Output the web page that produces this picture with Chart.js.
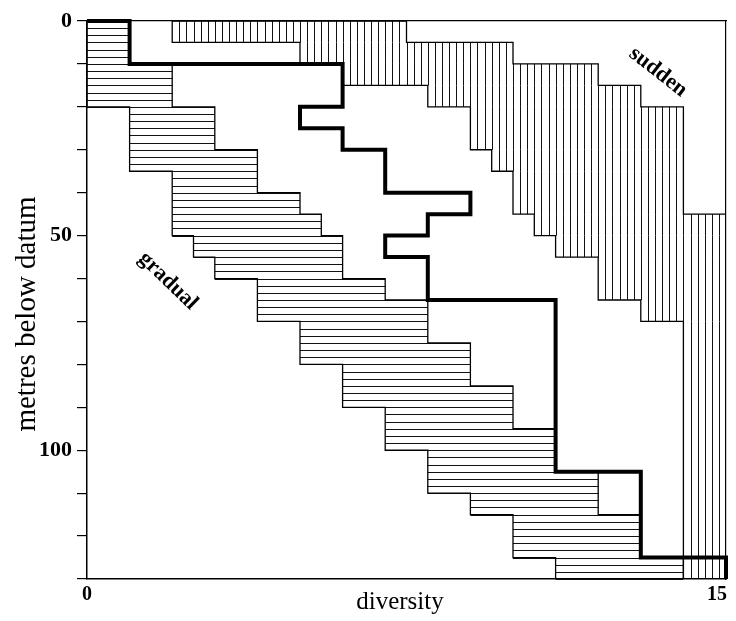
<!DOCTYPE html>
<html>
<head>
<meta charset="utf-8">
<script src="https://cdn.jsdelivr.net/npm/chart.js@4.4.0/dist/chart.umd.min.js"></script>
<style>
  html, body { margin: 0; padding: 0; background: #fff; }
  #wrap { width: 736px; height: 621px; }
</style>
</head>
<body>
<div id="wrap"><canvas id="c" width="736" height="621"></canvas></div>
<script>
// ---- data (diversity vs metres below datum) ----
// "gradual" pattern: depth intervals and diversity range (horizontal hatching)
const gradualTop    = [0, 10, 20, 30, 35, 40, 45, 50, 55, 60, 65, 70, 75, 80, 85, 90, 95, 100, 105, 110, 115, 125];
const gradualBottom = [10, 20, 30, 35, 40, 45, 50, 55, 60, 65, 70, 75, 80, 85, 90, 95, 100, 105, 110, 115, 125, 130];
const gradualMin    = [0, 0, 1, 1, 2, 2, 2, 2.5, 3, 4, 4, 5, 5, 6, 6, 7, 7, 8, 8, 9, 10, 11];
const gradualMax    = [1, 2, 3, 4, 4, 5, 5.5, 6, 6, 7, 8, 8, 9, 9, 10, 10, 11, 11, 12, 12, 13, 14];

// "sudden" pattern: depth intervals and diversity range (vertical hatching)
const suddenTop    = [0, 5, 10, 15, 20, 30, 35, 45, 50, 55, 65, 70];
const suddenBottom = [5, 10, 15, 20, 30, 35, 45, 50, 55, 65, 70, 130];
const suddenMin    = [2, 5, 6, 8, 9, 9.5, 10, 10.5, 11, 12, 13, 14];
const suddenMax    = [7.5, 10, 12, 13, 14, 14, 14, 15, 15, 15, 15, 15];

// observed diversity curve (thick line)
const observedX = [0, 1, 1, 6, 6, 5, 5, 6, 6, 7, 7, 9, 9, 8, 8, 7, 7, 8, 8, 11, 11, 13, 13, 15, 15];
const observedY = [0, 0, 10, 10, 20, 20, 25, 25, 30, 30, 40, 40, 45, 45, 50, 50, 55, 55, 65, 65, 105, 105, 125, 125, 130];

// axes
const yTickLabels = [0, 50, 100];
const xTickLabels = [0, 15];
const yMax = 130;
const xMax = 15;

// ---- helpers ----
function stepPolygon(tops, bottoms, mins, maxs) {
  const pts = [];
  for (let i = 0; i < tops.length; i++) {
    pts.push({x: mins[i], y: tops[i]}, {x: mins[i], y: bottoms[i]});
  }
  for (let i = tops.length - 1; i >= 0; i--) {
    pts.push({x: maxs[i], y: bottoms[i]}, {x: maxs[i], y: tops[i]});
  }
  pts.push({x: mins[0], y: tops[0]});
  return pts;
}
const observed = observedX.map((v, i) => ({x: v, y: observedY[i]}));

const SERIF = '"Liberation Serif", "DejaVu Serif", serif';
const HATCH_DEPTH = 5 / 3;   // spacing of horizontal hatch lines (m)
const HATCH_DIV = 1 / 6;     // spacing of vertical hatch lines (diversity units)

const hatchPlugin = {
  id: 'hatch',
  beforeDatasetsDraw(chart) {
    const {ctx, scales: {x, y}} = chart;
    ctx.save();
    ctx.strokeStyle = '#111';
    ctx.lineWidth = 1;
    ctx.beginPath();
    for (let i = 0; i < gradualTop.length; i++) {
      const x0 = x.getPixelForValue(gradualMin[i]);
      const x1 = x.getPixelForValue(gradualMax[i]);
      for (let k = Math.ceil(gradualTop[i] / HATCH_DEPTH - 1e-6); k * HATCH_DEPTH <= gradualBottom[i] + 1e-6; k++) {
        const py = Math.round(y.getPixelForValue(k * HATCH_DEPTH)) + 0.5;
        ctx.moveTo(x0, py);
        ctx.lineTo(x1, py);
      }
    }
    for (let i = 0; i < suddenTop.length; i++) {
      const y0 = y.getPixelForValue(suddenTop[i]);
      const y1 = y.getPixelForValue(suddenBottom[i]);
      for (let k = Math.ceil(suddenMin[i] / HATCH_DIV + 1e-6); k * HATCH_DIV < suddenMax[i] - 1e-6; k++) {
        const px = Math.round(x.getPixelForValue(k * HATCH_DIV)) + 0.5;
        ctx.moveTo(px, y0);
        ctx.lineTo(px, y1);
      }
    }
    ctx.stroke();
    ctx.restore();
  }
};

const textPlugin = {
  id: 'texts',
  afterDraw(chart) {
    const {ctx, scales: {x}, chartArea} = chart;
    ctx.save();
    ctx.fillStyle = '#000';
    // x tick labels
    ctx.font = 'bold 20px ' + SERIF;
    ctx.textBaseline = 'alphabetic';
    xTickLabels.forEach((v, i) => {
      const px = x.getPixelForValue(v);
      ctx.textAlign = (i === xTickLabels.length - 1) ? 'right' : 'center';
      ctx.fillText(String(v), px + (i === xTickLabels.length - 1 ? 1 : 0), chartArea.bottom + 21);
    });
    // x axis title
    ctx.font = '25px ' + SERIF;
    ctx.textAlign = 'center';
    ctx.fillText('diversity', 400, 609);
    // y axis title
    ctx.save();
    ctx.translate(35, 314);
    ctx.rotate(-Math.PI / 2);
    ctx.font = '29px ' + SERIF;
    ctx.textAlign = 'center';
    ctx.textBaseline = 'alphabetic';
    ctx.fillText('metres below datum', 0, 0);
    ctx.restore();
    // annotations
    ctx.font = 'bold 22px ' + SERIF;
    ctx.textAlign = 'center';
    ctx.textBaseline = 'middle';
    ctx.save();
    ctx.translate(168, 281);
    ctx.rotate(44 * Math.PI / 180);
    ctx.fillText('gradual', 0, 0);
    ctx.restore();
    ctx.save();
    ctx.translate(658, 72);
    ctx.rotate(38 * Math.PI / 180);
    ctx.fillText('sudden', 0, 0);
    ctx.restore();
    ctx.restore();
  }
};

new Chart(document.getElementById('c'), {
  type: 'scatter',
  data: {
    datasets: [
      {
        label: 'gradual',
        data: stepPolygon(gradualTop, gradualBottom, gradualMin, gradualMax),
        showLine: true, borderColor: '#000', borderWidth: 1.3,
        pointRadius: 0, fill: false, tension: 0
      },
      {
        label: 'sudden',
        data: stepPolygon(suddenTop, suddenBottom, suddenMin, suddenMax),
        showLine: true, borderColor: '#000', borderWidth: 1.3,
        pointRadius: 0, fill: false, tension: 0
      },
      {
        label: 'observed',
        data: observed,
        showLine: true, borderColor: '#000', borderWidth: 4,
        borderJoinStyle: 'miter', pointRadius: 0, fill: false, tension: 0,
        clip: 6
      }
    ]
  },
  options: {
    responsive: false,
    animation: false,
    devicePixelRatio: 1,
    layout: { padding: 0 },
    plugins: {
      legend: { display: false },
      tooltip: { enabled: false },
      title: { display: false }
    },
    scales: {
      x: {
        type: 'linear', position: 'bottom', min: 0, max: xMax,
        ticks: { display: false },
        grid: { display: false },
        border: { display: true, color: '#000', width: 1.5 },
        afterFit(s) { s.height = 42; }
      },
      x2: {
        type: 'linear', position: 'top', min: 0, max: xMax, display: true,
        ticks: { display: false },
        grid: { display: false },
        border: { display: true, color: '#000', width: 1.2 },
        afterFit(s) { s.height = 21; }
      },
      y: {
        type: 'linear', position: 'left', min: 0, max: yMax, reverse: true,
        ticks: {
          stepSize: 10, padding: 5, color: '#000',
          font: { family: SERIF, size: 22, weight: 'bold' },
          callback: (v) => yTickLabels.includes(v) ? String(v) : ''
        },
        grid: { display: true, drawOnChartArea: false, drawTicks: true, tickLength: 10, color: '#000', lineWidth: 1.2 },
        border: { display: true, color: '#000', width: 1.5 },
        afterFit(s) { s.width = 87; }
      },
      y2: {
        type: 'linear', position: 'right', min: 0, max: yMax, reverse: true, display: true,
        ticks: { display: false },
        grid: { display: false },
        border: { display: true, color: '#000', width: 1.2 },
        afterFit(s) { s.width = 10; }
      }
    }
  },
  plugins: [hatchPlugin, textPlugin]
});
</script>
</body>
</html>
